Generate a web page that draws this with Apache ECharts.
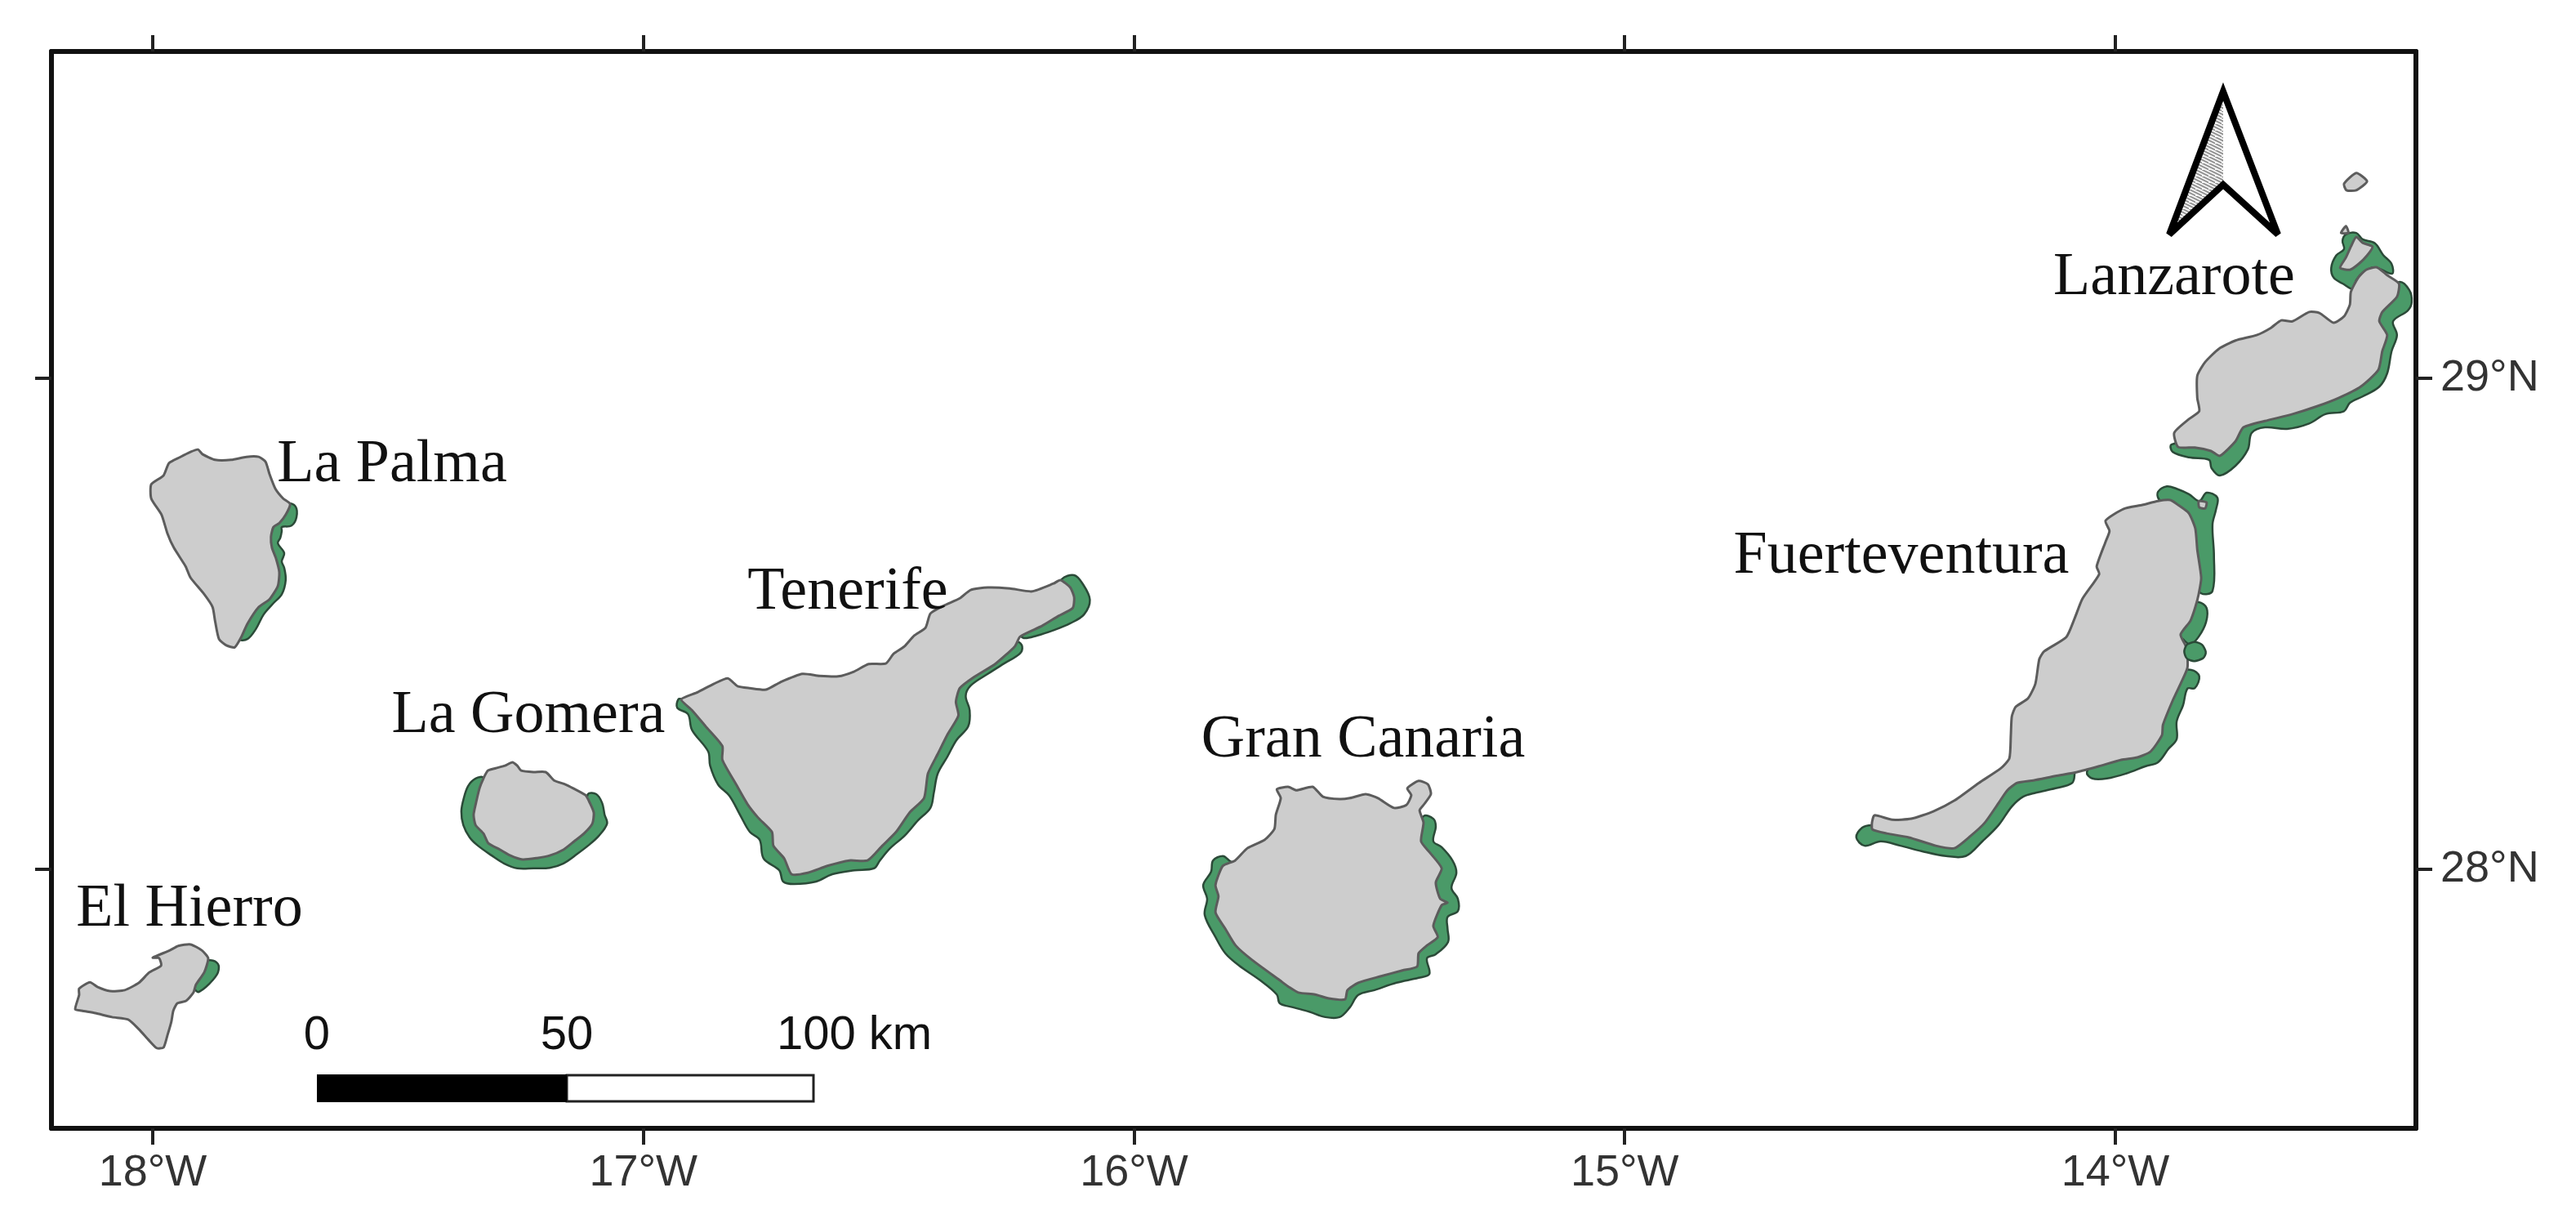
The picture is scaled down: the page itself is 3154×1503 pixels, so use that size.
<!DOCTYPE html>
<html>
<head>
<meta charset="utf-8">
<title>Canary Islands</title>
<script src="https://cdn.jsdelivr.net/npm/echarts@6/dist/echarts.min.js"></script>
<style>
html, body { margin: 0; padding: 0; background: #fff; }
#main { width: 3154px; height: 1503px; }
</style>
</head>
<body>
<div id="main"></div>
<script>
// axis ranges and ticks, degrees
const lonRange = [-18.2064, -13.3874];
const latRange = [27.4725, 29.6656];
const lonTicks = [-18, -17, -16, -15, -14];
const latTicks = [28, 29];

// island outlines, [lon, lat]
const laPalma = [[-17.923,28.850],[-17.908,28.855],[-17.898,28.845],[-17.873,28.834],[-17.840,28.834],[-17.809,28.840],[-17.784,28.840],[-17.770,28.830],[-17.762,28.805],[-17.750,28.775],[-17.734,28.755],[-17.720,28.744],[-17.729,28.722],[-17.742,28.705],[-17.754,28.697],[-17.759,28.677],[-17.757,28.655],[-17.749,28.634],[-17.742,28.605],[-17.745,28.577],[-17.762,28.550],[-17.784,28.534],[-17.807,28.500],[-17.820,28.472],[-17.833,28.452],[-17.850,28.456],[-17.865,28.469],[-17.873,28.506],[-17.878,28.534],[-17.895,28.560],[-17.923,28.594],[-17.933,28.617],[-17.957,28.655],[-17.970,28.684],[-17.982,28.722],[-18.003,28.755],[-18.003,28.784],[-17.978,28.802],[-17.967,28.827],[-17.945,28.839]];
const elHierro = [[-17.965,27.835],[-17.948,27.844],[-17.923,27.847],[-17.900,27.835],[-17.887,27.819],[-17.895,27.790],[-17.912,27.765],[-17.917,27.749],[-17.932,27.732],[-17.950,27.727],[-17.958,27.712],[-17.962,27.690],[-17.970,27.662],[-17.978,27.637],[-17.992,27.636],[-18.008,27.652],[-18.028,27.674],[-18.050,27.694],[-18.083,27.699],[-18.117,27.707],[-18.145,27.712],[-18.158,27.715],[-18.150,27.744],[-18.150,27.757],[-18.128,27.770],[-18.112,27.760],[-18.087,27.752],[-18.057,27.754],[-18.028,27.769],[-18.007,27.790],[-17.983,27.804],[-17.987,27.819],[-18.000,27.820]];
const laGomera = [[-17.317,28.201],[-17.301,28.206],[-17.282,28.211],[-17.267,28.218],[-17.257,28.211],[-17.249,28.201],[-17.224,28.198],[-17.199,28.198],[-17.182,28.181],[-17.159,28.173],[-17.143,28.165],[-17.118,28.151],[-17.109,28.135],[-17.101,28.115],[-17.104,28.093],[-17.121,28.073],[-17.141,28.057],[-17.163,28.040],[-17.191,28.028],[-17.217,28.023],[-17.246,28.020],[-17.271,28.028],[-17.292,28.040],[-17.316,28.053],[-17.326,28.073],[-17.342,28.090],[-17.346,28.111],[-17.341,28.136],[-17.334,28.165],[-17.326,28.185]];
const tenerife = [[-16.923,28.346],[-16.889,28.361],[-16.856,28.378],[-16.828,28.389],[-16.808,28.373],[-16.783,28.369],[-16.750,28.366],[-16.721,28.381],[-16.676,28.398],[-16.641,28.394],[-16.603,28.393],[-16.570,28.403],[-16.541,28.418],[-16.506,28.419],[-16.490,28.439],[-16.468,28.454],[-16.448,28.476],[-16.425,28.492],[-16.415,28.521],[-16.388,28.537],[-16.355,28.552],[-16.333,28.569],[-16.298,28.574],[-16.253,28.572],[-16.208,28.566],[-16.164,28.582],[-16.150,28.589],[-16.130,28.574],[-16.122,28.554],[-16.125,28.532],[-16.154,28.516],[-16.187,28.496],[-16.232,28.474],[-16.243,28.454],[-16.282,28.419],[-16.327,28.391],[-16.355,28.369],[-16.363,28.341],[-16.358,28.313],[-16.380,28.275],[-16.400,28.235],[-16.420,28.195],[-16.428,28.145],[-16.457,28.116],[-16.485,28.076],[-16.513,28.048],[-16.543,28.018],[-16.580,28.018],[-16.625,28.007],[-16.665,27.993],[-16.698,27.990],[-16.713,28.022],[-16.735,28.048],[-16.738,28.076],[-16.766,28.105],[-16.788,28.133],[-16.811,28.173],[-16.839,28.223],[-16.839,28.251],[-16.873,28.291],[-16.901,28.324]];
const granCanaria = [[-15.709,28.163],[-15.686,28.168],[-15.669,28.161],[-15.636,28.168],[-15.615,28.148],[-15.581,28.143],[-15.560,28.145],[-15.528,28.153],[-15.503,28.145],[-15.470,28.125],[-15.445,28.131],[-15.435,28.151],[-15.443,28.165],[-15.420,28.180],[-15.401,28.173],[-15.395,28.153],[-15.410,28.131],[-15.418,28.120],[-15.410,28.095],[-15.415,28.057],[-15.398,28.035],[-15.373,28.002],[-15.385,27.973],[-15.376,27.940],[-15.361,27.932],[-15.373,27.927],[-15.390,27.885],[-15.381,27.862],[-15.403,27.845],[-15.420,27.829],[-15.423,27.802],[-15.453,27.794],[-15.498,27.782],[-15.543,27.769],[-15.565,27.754],[-15.570,27.735],[-15.603,27.737],[-15.631,27.745],[-15.665,27.749],[-15.684,27.760],[-15.703,27.774],[-15.759,27.815],[-15.793,27.845],[-15.814,27.879],[-15.834,27.912],[-15.828,27.945],[-15.834,27.968],[-15.819,28.007],[-15.794,28.018],[-15.769,28.043],[-15.734,28.060],[-15.714,28.082],[-15.711,28.111],[-15.701,28.145]];
const fuerteventura = [[-14.020,28.710],[-13.983,28.734],[-13.945,28.742],[-13.913,28.750],[-13.888,28.752],[-13.872,28.742],[-13.850,28.725],[-13.837,28.694],[-13.833,28.651],[-13.825,28.594],[-13.830,28.561],[-13.837,28.534],[-13.847,28.506],[-13.867,28.478],[-13.855,28.451],[-13.853,28.411],[-13.867,28.378],[-13.883,28.344],[-13.903,28.294],[-13.905,28.273],[-13.928,28.240],[-13.955,28.228],[-13.988,28.223],[-14.033,28.210],[-14.078,28.198],[-14.122,28.190],[-14.167,28.181],[-14.200,28.176],[-14.220,28.161],[-14.238,28.135],[-14.266,28.095],[-14.295,28.068],[-14.328,28.043],[-14.366,28.048],[-14.421,28.065],[-14.466,28.073],[-14.495,28.081],[-14.496,28.095],[-14.491,28.110],[-14.455,28.101],[-14.416,28.103],[-14.371,28.118],[-14.328,28.140],[-14.278,28.176],[-14.233,28.206],[-14.216,28.226],[-14.213,28.273],[-14.211,28.311],[-14.203,28.331],[-14.178,28.348],[-14.163,28.378],[-14.155,28.428],[-14.145,28.444],[-14.100,28.473],[-14.083,28.511],[-14.067,28.551],[-14.033,28.601],[-14.038,28.617],[-14.020,28.667],[-14.012,28.689]];
const lobos = [[-13.830,28.750],[-13.814,28.747],[-13.817,28.735],[-13.829,28.737]];
const lanzarote = [[-13.520,29.176],[-13.505,29.205],[-13.489,29.221],[-13.467,29.226],[-13.446,29.210],[-13.422,29.193],[-13.426,29.166],[-13.456,29.135],[-13.462,29.116],[-13.446,29.088],[-13.456,29.055],[-13.464,29.017],[-13.500,28.983],[-13.545,28.960],[-13.589,28.943],[-13.639,28.927],[-13.695,28.913],[-13.739,28.900],[-13.755,28.872],[-13.787,28.842],[-13.805,28.852],[-13.838,28.859],[-13.872,28.860],[-13.880,28.889],[-13.850,28.917],[-13.829,28.933],[-13.833,28.960],[-13.833,29.005],[-13.817,29.033],[-13.789,29.060],[-13.755,29.077],[-13.712,29.088],[-13.684,29.102],[-13.662,29.118],[-13.639,29.116],[-13.605,29.135],[-13.584,29.133],[-13.555,29.113],[-13.534,29.126],[-13.522,29.150]];
const graciosa = [[-13.509,29.288],[-13.496,29.276],[-13.476,29.268],[-13.487,29.250],[-13.504,29.233],[-13.522,29.221],[-13.542,29.225],[-13.530,29.246],[-13.520,29.268]];
const alegranza = [[-13.534,29.396],[-13.509,29.418],[-13.487,29.401],[-13.509,29.383],[-13.529,29.383]];
const montanaClara = [[-13.540,29.296],[-13.530,29.310],[-13.525,29.296]];

// green coastal strips, outer edge then back through the island
const stripLaPalma = [[-17.725,28.745],[-17.709,28.739],[-17.707,28.717],[-17.717,28.700],[-17.737,28.697],[-17.737,28.689],[-17.740,28.675],[-17.745,28.664],[-17.732,28.644],[-17.737,28.627],[-17.732,28.614],[-17.729,28.589],[-17.737,28.560],[-17.754,28.542],[-17.774,28.519],[-17.790,28.489],[-17.807,28.469],[-17.824,28.469],[-17.830,28.530],[-17.790,28.610],[-17.790,28.680],[-17.760,28.720]];
const stripElHierro = [[-17.882,27.815],[-17.867,27.807],[-17.867,27.790],[-17.878,27.774],[-17.892,27.760],[-17.907,27.750],[-17.913,27.754],[-17.930,27.770],[-17.910,27.810]];
const stripLaGomera = [[-17.113,28.153],[-17.096,28.153],[-17.084,28.135],[-17.079,28.111],[-17.074,28.093],[-17.091,28.068],[-17.113,28.048],[-17.134,28.032],[-17.163,28.012],[-17.191,28.003],[-17.224,28.002],[-17.257,28.002],[-17.284,28.012],[-17.309,28.028],[-17.337,28.048],[-17.354,28.065],[-17.367,28.090],[-17.371,28.118],[-17.366,28.145],[-17.357,28.170],[-17.342,28.185],[-17.326,28.186],[-17.324,28.128],[-17.307,28.073],[-17.257,28.045],[-17.201,28.045],[-17.146,28.073],[-17.118,28.118]];
const stripTenerifeEast = [[-16.147,28.591],[-16.122,28.599],[-16.105,28.582],[-16.090,28.549],[-16.102,28.519],[-16.130,28.501],[-16.164,28.487],[-16.198,28.476],[-16.225,28.471],[-16.232,28.482],[-16.175,28.530],[-16.150,28.545],[-16.150,28.566]];
const stripTenerifeSouth = [[-16.237,28.463],[-16.228,28.454],[-16.233,28.439],[-16.265,28.419],[-16.298,28.398],[-16.333,28.374],[-16.343,28.353],[-16.335,28.324],[-16.338,28.291],[-16.362,28.263],[-16.380,28.230],[-16.400,28.195],[-16.408,28.156],[-16.415,28.125],[-16.440,28.100],[-16.468,28.068],[-16.497,28.043],[-16.518,28.018],[-16.530,28.002],[-16.570,27.998],[-16.615,27.990],[-16.648,27.975],[-16.693,27.970],[-16.715,27.975],[-16.723,27.998],[-16.755,28.022],[-16.763,28.060],[-16.783,28.076],[-16.803,28.111],[-16.825,28.150],[-16.848,28.173],[-16.864,28.211],[-16.868,28.240],[-16.901,28.284],[-16.909,28.316],[-16.931,28.329],[-16.929,28.346],[-16.921,28.346],[-16.840,28.300],[-16.750,28.200],[-16.650,28.100],[-16.500,28.150],[-16.420,28.300],[-16.300,28.450]];
const stripGranCanaria = [[-15.410,28.108],[-15.390,28.103],[-15.385,28.087],[-15.390,28.057],[-15.373,28.045],[-15.351,28.018],[-15.343,27.993],[-15.353,27.962],[-15.340,27.940],[-15.340,27.915],[-15.361,27.903],[-15.361,27.879],[-15.360,27.852],[-15.385,27.827],[-15.403,27.819],[-15.398,27.787],[-15.420,27.779],[-15.465,27.769],[-15.510,27.754],[-15.543,27.744],[-15.560,27.719],[-15.581,27.699],[-15.610,27.699],[-15.643,27.710],[-15.676,27.719],[-15.703,27.727],[-15.709,27.745],[-15.743,27.774],[-15.786,27.804],[-15.814,27.829],[-15.834,27.862],[-15.856,27.907],[-15.851,27.940],[-15.859,27.968],[-15.843,27.995],[-15.839,28.018],[-15.819,28.027],[-15.806,28.018],[-15.780,28.000],[-15.780,27.900],[-15.600,27.850],[-15.450,27.900],[-15.450,28.050]];
const stripFuerteNorth = [[-13.912,28.755],[-13.913,28.769],[-13.895,28.780],[-13.875,28.775],[-13.850,28.764],[-13.829,28.750],[-13.814,28.767],[-13.792,28.757],[-13.795,28.732],[-13.802,28.702],[-13.799,28.639],[-13.802,28.567],[-13.825,28.562],[-13.860,28.600],[-13.860,28.690],[-13.890,28.730]];
const stripFuerteMiddle = [[-13.830,28.544],[-13.814,28.532],[-13.815,28.504],[-13.830,28.474],[-13.847,28.458],[-13.863,28.469],[-13.890,28.490],[-13.860,28.540]];
const stripFuerteBlob = [[-13.857,28.453],[-13.847,28.461],[-13.830,28.461],[-13.819,28.451],[-13.817,28.436],[-13.830,28.426],[-13.848,28.426],[-13.858,28.436]];
const stripFuerteSouth = [[-13.845,28.406],[-13.829,28.393],[-13.838,28.369],[-13.853,28.368],[-13.862,28.334],[-13.875,28.301],[-13.875,28.265],[-13.892,28.245],[-13.913,28.218],[-13.938,28.210],[-13.978,28.195],[-14.017,28.185],[-14.047,28.185],[-14.058,28.198],[-14.030,28.250],[-13.950,28.300],[-13.900,28.400]];
const stripFuerteWest = [[-14.083,28.195],[-14.088,28.176],[-14.122,28.165],[-14.162,28.156],[-14.188,28.148],[-14.211,28.128],[-14.238,28.090],[-14.271,28.057],[-14.305,28.027],[-14.345,28.027],[-14.395,28.037],[-14.438,28.048],[-14.478,28.057],[-14.511,28.048],[-14.528,28.065],[-14.516,28.085],[-14.496,28.090],[-14.450,28.088],[-14.330,28.090],[-14.240,28.170],[-14.150,28.220],[-14.083,28.230]];
const stripGraciosa = [[-13.530,29.293],[-13.509,29.296],[-13.496,29.283],[-13.471,29.275],[-13.454,29.251],[-13.437,29.233],[-13.436,29.213],[-13.471,29.226],[-13.492,29.218],[-13.509,29.200],[-13.514,29.181],[-13.537,29.193],[-13.555,29.205],[-13.560,29.225],[-13.550,29.250],[-13.534,29.263],[-13.537,29.280]];
const stripLanzarote = [[-13.422,29.196],[-13.401,29.180],[-13.396,29.155],[-13.404,29.138],[-13.434,29.116],[-13.426,29.088],[-13.437,29.055],[-13.446,29.010],[-13.462,28.983],[-13.496,28.963],[-13.522,28.950],[-13.534,28.933],[-13.572,28.927],[-13.605,28.908],[-13.650,28.897],[-13.695,28.900],[-13.722,28.889],[-13.730,28.855],[-13.755,28.822],[-13.787,28.802],[-13.804,28.817],[-13.809,28.834],[-13.850,28.839],[-13.883,28.850],[-13.887,28.864],[-13.875,28.869],[-13.850,28.900],[-13.750,28.930],[-13.600,28.980],[-13.500,29.050],[-13.500,29.150]];

const greenStrips = [stripLaPalma, stripElHierro, stripLaGomera, stripTenerifeEast, stripTenerifeSouth, stripGranCanaria, stripFuerteNorth, stripFuerteMiddle, stripFuerteSouth, stripFuerteWest, stripGraciosa, stripLanzarote];
const greyIslands = [laPalma, elHierro, laGomera, tenerife, granCanaria, fuerteventura, lobos, lanzarote, graciosa, alegranza, montanaClara];
const greenOnTop = [stripFuerteBlob];

// island names and scale bar text
const islandNames = ['El Hierro', 'La Palma', 'La Gomera', 'Tenerife', 'Gran Canaria', 'Fuerteventura', 'Lanzarote'];
const islandNameX = [232, 480, 647, 1038, 1669, 2328, 2662];
const islandNameY = [1151, 607, 914, 763, 944, 719, 378];
const scaleLabels = ['0', '50', '100 km'];
const scaleLabelX = [388, 694, 1046];

function coastSeries(coast, fill, stroke, lineWidth, smooth, z) {
    return {
        type: 'custom',
        coordinateSystem: 'cartesian2d',
        silent: true,
        animation: false,
        z: z,
        data: coast,
        encode: { x: 0, y: 1 },
        renderItem: function (params, api) {
            if (params.dataIndex !== 0) return;
            return {
                type: 'polygon',
                shape: { points: coast.map(function (p) { return api.coord(p); }), smooth: smooth },
                style: { fill: fill, stroke: stroke, lineWidth: lineWidth, lineJoin: 'round' }
            };
        }
    };
}

function hatchPattern() {
    let c = document.createElement('canvas');
    c.width = 8;
    c.height = 8;
    let ctx = c.getContext('2d');
    ctx.fillStyle = '#f4f4f4';
    ctx.fillRect(0, 0, 8, 8);
    ctx.strokeStyle = '#8c8c8c';
    ctx.lineWidth = 1.6;
    ctx.beginPath();
    ctx.moveTo(-1, 3); ctx.lineTo(9, 8);
    ctx.moveTo(-1, -1); ctx.lineTo(9, 4);
    ctx.stroke();
    return c;
}

let series = [];
greenStrips.forEach(function (s) { series.push(coastSeries(s, '#4a9a68', '#2b4a38', 2.5, 0.35, 2)); });
greyIslands.forEach(function (s) { series.push(coastSeries(s, '#cdcdcd', '#5c5c5c', 3, 0.2, 3)); });
greenOnTop.forEach(function (s) { series.push(coastSeries(s, '#4a9a68', '#2b4a38', 2.5, 0.5, 4)); });

const frameLine = { show: true, onZero: false, lineStyle: { color: '#111', width: 6 } };
const tickStyle = { show: true, length: 20, lineStyle: { color: '#222', width: 4 } };

function lonAxis(position, showLabel) {
    return {
        type: 'value', position: position, min: lonRange[0], max: lonRange[1],
        splitLine: { show: false },
        axisLine: frameLine,
        axisTick: Object.assign({ customValues: lonTicks }, tickStyle),
        axisLabel: {
            show: showLabel, customValues: lonTicks, margin: 28,
            fontFamily: 'Liberation Sans', fontSize: 54, color: '#333',
            formatter: function (v) { return Math.abs(v) + '°W'; }
        }
    };
}

function latAxis(position, showLabel) {
    return {
        type: 'value', position: position, min: latRange[0], max: latRange[1],
        splitLine: { show: false },
        axisLine: frameLine,
        axisTick: Object.assign({ customValues: latTicks }, tickStyle),
        axisLabel: {
            show: showLabel, customValues: latTicks, margin: 30,
            fontFamily: 'Liberation Sans', fontSize: 54, color: '#333',
            formatter: function (v) { return v + '°N'; }
        }
    };
}

let graphics = [];
islandNames.forEach(function (name, i) {
    graphics.push({
        type: 'text', z: 20,
        style: {
            text: name, x: islandNameX[i], y: islandNameY[i],
            font: '74px "Liberation Serif"', fill: '#111',
            textAlign: 'center', textVerticalAlign: 'bottom'
        }
    });
});
scaleLabels.forEach(function (t, i) {
    graphics.push({
        type: 'text', z: 20,
        style: {
            text: t, x: scaleLabelX[i], y: 1297,
            font: '58px "Liberation Sans"', fill: '#111',
            textAlign: 'center', textVerticalAlign: 'bottom'
        }
    });
});
// scale bar
graphics.push({ type: 'rect', z: 20, shape: { x: 694, y: 1316, width: 302, height: 32 }, style: { fill: '#fff', stroke: '#222', lineWidth: 3 } });
graphics.push({ type: 'rect', z: 21, shape: { x: 388, y: 1315, width: 306, height: 34 }, style: { fill: '#000' } });
// north arrow
graphics.push({ type: 'polygon', z: 20, shape: { points: [[2722, 112], [2656, 287], [2722, 226]] }, style: { fill: { image: hatchPattern(), repeat: 'repeat' } } });
graphics.push({ type: 'polygon', z: 21, shape: { points: [[2722, 112], [2656, 287], [2722, 226], [2789, 287]] }, style: { fill: 'transparent', stroke: '#000', lineWidth: 8, lineJoin: 'miter', miterLimit: 3 } });

let myChart = echarts.init(document.getElementById('main'));
myChart.setOption({
    backgroundColor: '#fff',
    animation: false,
    grid: { left: 63, right: 196, top: 63, bottom: 122, show: false },
    xAxis: [lonAxis('bottom', true), lonAxis('top', false)],
    yAxis: [latAxis('left', false), latAxis('right', true)],
    series: series,
    graphic: graphics
});
</script>
</body>
</html>
